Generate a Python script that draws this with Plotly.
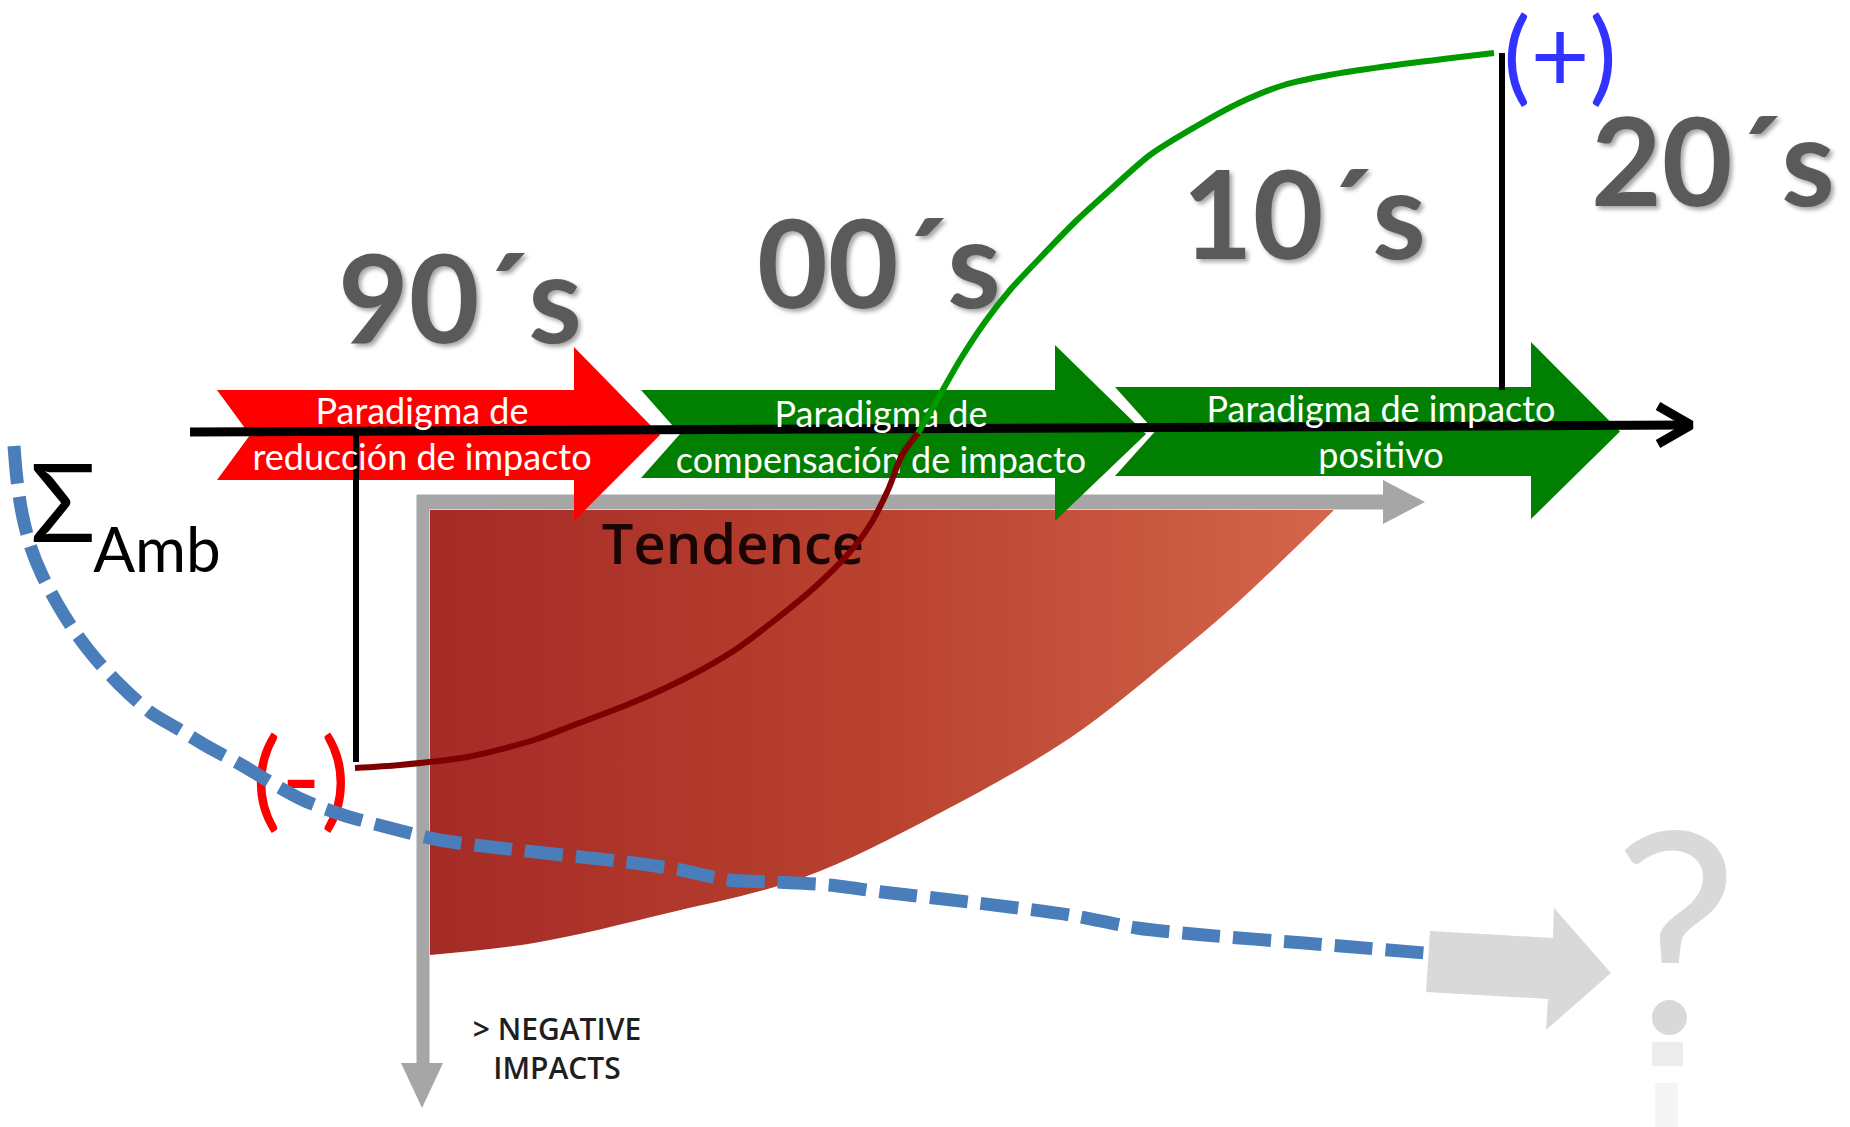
import plotly.graph_objects as go

# ---------------- data ----------------
paradigms = ["Paradigma de<br>reducción de impacto",
             "Paradigma de<br>compensación de impacto",
             "Paradigma de impacto<br>positivo"]
paradigm_colors = ["#ff0000", "#007f00", "#007f00"]
decades = ["90´s", "00´s", "10´s", "20´s"]

# environmental balance trajectory (diagram units, y grows downward)
neg_curve_x = [355, 400, 467, 534, 574, 634, 688, 735, 775, 815, 849, 870, 888, 902, 918]
neg_curve_y = [768, 765, 757, 740, 725, 702, 677, 650, 620, 587, 553, 525, 490, 455, 433]
pos_curve_x = [918, 940, 960, 985, 1010, 1040, 1075, 1110, 1150, 1195, 1239, 1284, 1329, 1396, 1494]
pos_curve_y = [433, 395, 360, 322, 290, 258, 222, 190, 155, 127, 103, 85, 75, 65, 53]

# Σ Amb dashed trajectory
amb_x = [14, 17, 22, 30, 42, 58, 75, 95, 120, 150, 180, 210, 240, 270, 303, 343, 390, 440,
         500, 581, 634, 681, 728, 775, 829, 882, 969, 1070, 1137, 1204, 1304, 1425]
amb_y = [446, 480, 513, 545, 575, 605, 632, 658, 685, 712, 730, 748, 764, 782, 800, 815, 828, 840,
         848, 857, 863, 870, 880, 882, 885, 892, 902, 915, 928, 935, 943, 953]

# "Tendence" boundary curve
tend_x = [430, 534, 668, 802, 936, 1070, 1170, 1237, 1291, 1334]
tend_y = [955, 943, 913, 878, 815, 738, 660, 603, 552, 510]

# ---------------- figure ----------------
fig = go.Figure()
NOH = dict(hoverinfo="skip", showlegend=False)


def poly(xs, ys, color, **kw):
    fig.add_trace(go.Scatter(x=list(xs) + [xs[0]], y=list(ys) + [ys[0]], mode="lines",
                             fill="toself", fillcolor=color, line=dict(width=0, color=color),
                             **kw, **NOH))


def line(xs, ys, color, width, dash=None, shape="linear"):
    fig.add_trace(go.Scatter(x=xs, y=ys, mode="lines",
                             line=dict(color=color, width=width, dash=dash, shape=shape,
                                       smoothing=0.8), **NOH))


def text(x, y, t, size, color, family="Lato", weight="normal", shadow=None):
    f = dict(family=family, size=size, color=color, weight=weight)
    if shadow:
        f["shadow"] = shadow
    fig.add_trace(go.Scatter(x=[x], y=[y], mode="text", text=[t], textposition="middle center",
                             textfont=f, **NOH))


# Tendence area with gradient: smooth lower curve, then straight top edge filled to it
fig.add_trace(go.Scatter(x=tend_x, y=tend_y, mode="lines",
                         line=dict(width=0, shape="spline", smoothing=1.0), **NOH))
fig.add_trace(go.Scatter(x=[tend_x[-1], tend_x[0], tend_x[0]], y=[tend_y[-1], tend_y[-1], tend_y[0]],
                         mode="lines", fill="tonexty",
                         fillgradient=dict(type="horizontal",
                                           colorscale=[[0, "#a52b27"], [0.5, "#b9422f"], [1, "#d4664b"]]),
                         line=dict(width=0), **NOH))

# gray axes of the Tendence graphic
GRAY = "#a6a6a6"
line([417, 1390], [502, 502], GRAY, 15)
poly([1383, 1425, 1383], [480, 502, 524], GRAY)
line([423, 423], [495, 1070], GRAY, 13)
poly([401, 422, 443], [1063, 1108, 1063], GRAY)
text(733, 550, "Tendence", 56, "#1a0505", family="Open Sans", weight=600)
text(557, 1052, "> NEGATIVE<br>IMPACTS", 30, "#1f1f1f", family="Open Sans", weight=600)

# paradigm arrows
arrow_geo = [  # left, top, bottom, notch_x, head_x, head_top, tip_x, head_bottom
    (217, 390, 480, 250, 574, 347, 660, 521),
    (641, 390, 478, 680, 1055, 345, 1146, 521),
    (1115, 387, 476, 1155, 1531, 342, 1620, 519),
]
for (l, t, b, nx, hx, ht, tipx, hb), col in zip(arrow_geo, paradigm_colors):
    mid = (t + b) / 2
    poly([l, hx, hx, tipx, hx, hx, l, nx], [t, t, ht, mid, hb, b, b, mid], col)

# timeline
line([190, 1688], [432, 425], "#000000", 9)
line([1658, 1691, 1658], [406, 425, 444], "#000000", 9)
line([356, 356], [432, 762], "#000000", 6)
line([1502, 1502], [53, 390], "#000000", 6)

# paradigm labels
text_pos = [(422, 438), (881, 441), (1381, 436)]
for (x, y), t in zip(text_pos, paradigms):
    text(x, y, t, 36, "#ffffff")

# decade labels
dec_pos = [(460, 312), (879, 277), (1304, 228), (1713, 175)]
for (x, y), t in zip(dec_pos, decades):
    text(x, y, t, 122, "#5a5a5a", weight="bold", shadow="3px 3px 4px rgba(0,0,0,0.35)")

# (-) marker
text(301, 790, "(-)", 108, "#ff0000")

# Σ Amb dashed curve
line(amb_x, amb_y, "#4a7ebb", 13, dash="38px,13px", shape="spline")

# big gray arrow and question mark
poly([1430, 1553, 1554, 1611, 1546, 1548, 1426], [931, 938, 908, 973, 1030, 999, 992], "#d9d9d9")
poly([1652, 1683, 1683, 1652], [1042, 1042, 1066, 1066], "#ececec")
poly([1655, 1678, 1678, 1655], [1083, 1083, 1127, 1127], "#f5f5f5")
text(1676, 963, "?", 280, "#d9d9d9")

# trajectory curves
line(neg_curve_x, neg_curve_y, "#7f0000", 6, shape="spline")
line(pos_curve_x, pos_curve_y, "#009900", 6, shape="spline")

# (+) marker and Σ Amb
text(1560, 66, "(+)", 102, "#3333ff")
text(63, 515, "Σ", 108, "#000000")
text(157, 556, "Amb", 62, "#000000")

fig.update_layout(
    width=1850, height=1127, margin=dict(l=0, r=0, t=0, b=0),
    paper_bgcolor="white", plot_bgcolor="white", showlegend=False,
    xaxis=dict(range=[0, 1850], visible=False, fixedrange=True),
    yaxis=dict(range=[1127, 0], visible=False, fixedrange=True),
)
fig.write_html("out.html", config={"displayModeBar": False},
               post_script="document.body.style.margin='0';document.body.style.overflow='hidden';")
